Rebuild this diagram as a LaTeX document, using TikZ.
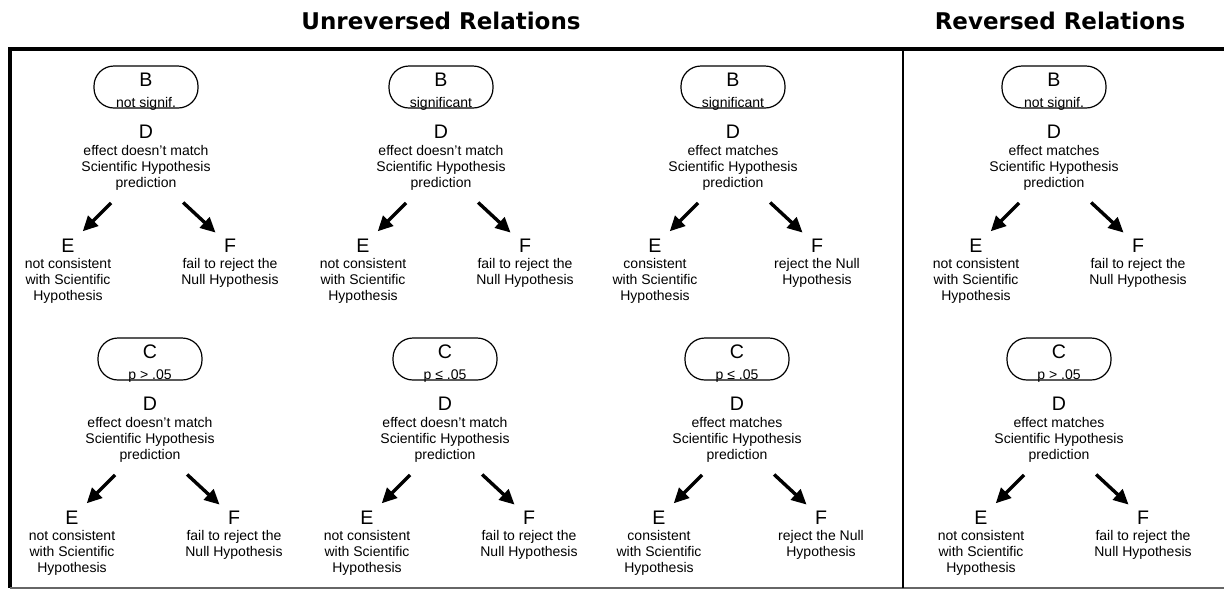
\documentclass[tikz,border=0pt]{standalone}
\usepackage{fontspec}
\setmainfont{Liberation Sans}
\newfontfamily\titlefont{DejaVu Sans}
\usetikzlibrary{arrows.meta}

\newcommand{\nomatch}{effect doesn't match\\Scientific Hypothesis\\prediction}
\newcommand{\match}{effect matches\\Scientific Hypothesis\\prediction}
\newcommand{\notcons}{not consistent\\with Scientific\\Hypothesis}
\newcommand{\cons}{consistent\\with Scientific\\Hypothesis}
\newcommand{\failrej}{fail to reject the\\Null Hypothesis}
\newcommand{\rej}{reject the Null\\Hypothesis}

\tikzset{
	pill/.style={draw, line width=0.6pt, rounded corners=10pt, minimum width=52pt, minimum height=21pt, inner sep=0pt},
	letter/.style={font=\fontsize{9.8}{10}\selectfont, inner sep=0pt},
	note/.style={font=\fontsize{7}{8}\selectfont, align=center, inner sep=0pt},
	arr/.style={line width=1.7pt, -{Triangle[length=7.5pt,width=7pt]}, shorten <=8.5pt, shorten >=5.5pt},
	heading/.style={font=\titlefont\bfseries\fontsize{11.5}{13}\selectfont}
}

\begin{document}
\begin{tikzpicture}[x=0.5pt, y=-0.5pt]
		\useasboundingbox (0, 0) rectangle (1224, 590);
		% frame
		\draw[line width=2pt] (1240, 49) -- (10, 49) -- (10, 588);
		\draw[line width=0.6pt, black!60] (10, 588) -- (1240, 588);
		\draw[line width=1pt] (903, 49) -- (903, 588);
		\node[heading] (unrev) at (441, 21) {Unreversed Relations};
		\node[heading] (rev) at (1060, 21) {Reversed Relations};
		% panels
		\foreach \n/\cx/\cy/\lt/\ls/\dd/\ee/\ff in {
				1/146/87/B/not signif./\nomatch/\notcons/\failrej,
				2/441/87/B/significant/\nomatch/\notcons/\failrej,
				3/733/87/B/significant/\match/\cons/\rej,
				4/1054/87/B/not signif./\match/\notcons/\failrej,
				5/150/359/C/p > .05/\nomatch/\notcons/\failrej,
				6/445/359/C/p ≤ .05/\nomatch/\notcons/\failrej,
				7/737/359/C/p ≤ .05/\match/\cons/\rej,
				8/1059/359/C/p > .05/\match/\notcons/\failrej} {
			\begin{scope}[shift={(\cx, \cy)}]
				\node[pill] (b\n) at (0, 0) {};
				\node[letter] (bl\n) at (0, -7.5) {\lt};
				\node[note, anchor=base] (bs\n) at (0, 20) {\ls};
				\node[letter] (dl\n) at (0, 45) {D};
				\node[note] (d\n) at (0, 81) {\dd};
				\node[letter] (el\n) at (-78, 159) {E};
				\node[note] (e\n) at (-78, 194) {\ee};
				\node[letter] (fl\n) at (84, 159) {F};
				\node[note] (f\n) at (84, 186) {\ff};
				\draw[arr] (d\n) -- (el\n);
				\draw[arr] (d\n) -- (fl\n);
			\end{scope}
		}
	\end{tikzpicture}
\end{document}
